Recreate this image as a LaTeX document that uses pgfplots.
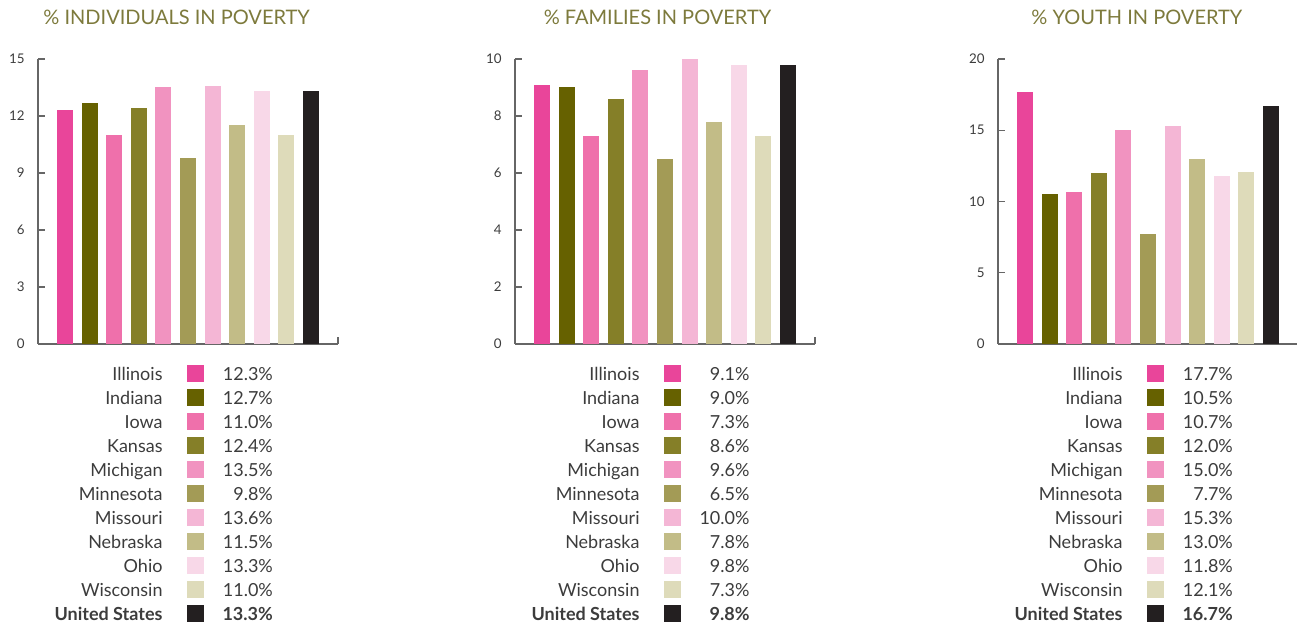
\documentclass[border=0pt]{standalone}
\usepackage{pgfplots}
\pgfplotsset{compat=1.18}
\usepackage{fontspec}
\setmainfont{Lato}

\definecolor{c1}{HTML}{E9459A}
\definecolor{c2}{HTML}{666100}
\definecolor{c3}{HTML}{EF70AB}
\definecolor{c4}{HTML}{857F28}
\definecolor{c5}{HTML}{F193C0}
\definecolor{c6}{HTML}{A39B56}
\definecolor{c7}{HTML}{F4B6D5}
\definecolor{c8}{HTML}{C2BC87}
\definecolor{c9}{HTML}{F8D8E8}
\definecolor{c10}{HTML}{DEDBBA}
\definecolor{c11}{HTML}{231F20}
\definecolor{titlecol}{HTML}{7D7A3C}
\definecolor{txt}{HTML}{3C3C3C}
\definecolor{axcol}{HTML}{666666}

\pgfplotsset{
  sq legend/.style={legend image code/.code={\path (-3.75pt,0pt); \fill[##1,draw=none] (0pt,-6.375pt) rectangle (12.75pt,6.375pt);}},
  b/.style={ybar, bar width=12pt, bar shift=0pt, fill=#1, draw=none, sq legend},
  panel/.style={
    scale only axis, width=225pt, height=213.75pt,
    xmin=-1.1, xmax=11.1, ymin=0,
    axis lines*=left, axis line style={axcol, line width=0.9pt},
    tick align=inside, major tick length=5.25pt, tick style={axcol, line width=0.9pt},
    xtick={11.1}, xticklabels={},
    yticklabel style={font=\fontsize{10}{11}\selectfont, text=txt, xshift=-6.5pt},
    /pgf/number format/assume math mode=true,
    title style={at={(0.465,1)}, anchor=base, yshift=20pt, font=\fontsize{15}{18}\selectfont, text=titlecol},
    legend columns=2, legend plot pos=right, legend cell align=right,
    legend style={at={(0,0)}, anchor=north west, xshift=12.25pt, yshift=-15pt, draw=none, fill=none, inner sep=0pt, column sep=14.25pt, row sep=3.7pt, font=\fontsize{13.5}{16}\selectfont, text=txt, nodes={inner sep=0pt, text height=12pt, text depth=2.3pt}},
  }
}

\newcommand\st[4]{%
  \addplot[b=#3] coordinates {(#1,#2)};
  \addlegendentry{#4}
  \addlegendimage{empty legend}
  \addlegendentry{#2\%}
}
\newcommand\us[2]{%
  \addplot[b=c11] coordinates {(#1,#2)};
  \addlegendentry{\textbf{United States}}
  \addlegendimage{empty legend}
  \addlegendentry{\textbf{#2\%}}
}

\begin{document}
\begin{tikzpicture}
\useasboundingbox (-28.5pt,-212.25pt) rectangle (944.25pt,258pt);

\begin{axis}[panel, at={(0pt,0pt)}, ymax=15, ytick={0,3,...,15},
  title={\% INDIVIDUALS IN POVERTY}, title style={at={(0.462,1)}}]
\st{0}{12.3}{c1}{Illinois}
\st{1}{12.7}{c2}{Indiana}
\st{2}{11.0}{c3}{Iowa}
\st{3}{12.4}{c4}{Kansas}
\st{4}{13.5}{c5}{Michigan}
\st{5}{9.8}{c6}{Minnesota}
\st{6}{13.6}{c7}{Missouri}
\st{7}{11.5}{c8}{Nebraska}
\st{8}{13.3}{c9}{Ohio}
\st{9}{11.0}{c10}{Wisconsin}
\us{10}{13.3}
\end{axis}

\begin{axis}[panel, at={(357.75pt,0pt)}, ymax=10, ytick={0,2,...,10},
  title={\% FAMILIES IN POVERTY}, title style={at={(0.475,1)}}]
\st{0}{9.1}{c1}{Illinois}
\st{1}{9.0}{c2}{Indiana}
\st{2}{7.3}{c3}{Iowa}
\st{3}{8.6}{c4}{Kansas}
\st{4}{9.6}{c5}{Michigan}
\st{5}{6.5}{c6}{Minnesota}
\st{6}{10.0}{c7}{Missouri}
\st{7}{7.8}{c8}{Nebraska}
\st{8}{9.8}{c9}{Ohio}
\st{9}{7.3}{c10}{Wisconsin}
\us{10}{9.8}
\end{axis}

\begin{axis}[panel, at={(720pt,0pt)}, ymax=20, ytick={0,5,...,20},
  title={\% YOUTH IN POVERTY}, title style={at={(0.463,1)}}]
\st{0}{17.7}{c1}{Illinois}
\st{1}{10.5}{c2}{Indiana}
\st{2}{10.7}{c3}{Iowa}
\st{3}{12.0}{c4}{Kansas}
\st{4}{15.0}{c5}{Michigan}
\st{5}{7.7}{c6}{Minnesota}
\st{6}{15.3}{c7}{Missouri}
\st{7}{13.0}{c8}{Nebraska}
\st{8}{11.8}{c9}{Ohio}
\st{9}{12.1}{c10}{Wisconsin}
\us{10}{16.7}
\end{axis}
\end{tikzpicture}
\end{document}
